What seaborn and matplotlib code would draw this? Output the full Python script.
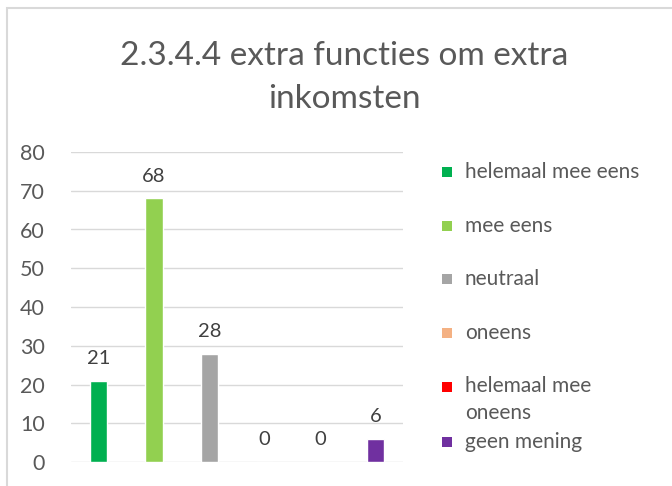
"""Recreate bar chart: 2.3.4.4 extra functies om extra inkomsten."""
import matplotlib
matplotlib.use('Agg')
import matplotlib.pyplot as plt
from matplotlib.patches import Rectangle
import pandas as pd
import seaborn as sns

# data
categories = ['helemaal mee eens', 'mee eens', 'neutraal', 'oneens',
              'helemaal mee oneens', 'geen mening']
legend_labels = ['helemaal mee eens', 'mee eens', 'neutraal', 'oneens',
                 'helemaal mee\noneens', 'geen mening']
counts = [21, 68, 28, 0, 0, 6]
colors = ['#00B050', '#92D050', '#A5A5A5', '#F4B183', '#FF0000', '#7030A0']
yticks = [0, 10, 20, 30, 40, 50, 60, 70, 80]

TEXT = '#595959'
GRID = '#D9D9D9'

sns.set_theme(style='white')
plt.rcParams['font.family'] = ['Lato', 'DejaVu Sans']

df = pd.DataFrame({'cat': categories, 'n': counts})

fig = plt.figure(figsize=(6.72, 4.86), dpi=100)
ax = fig.add_axes([71 / 672, 1 - 462 / 486, 332 / 672, 310 / 486])

sns.barplot(data=df, x='cat', y='n', hue='cat', palette=colors,
            order=categories, hue_order=categories, width=0.31,
            legend=False, ax=ax, saturation=1)

# value labels above each bar
for cont in ax.containers:
    ax.bar_label(cont, padding=10, fontsize=14.5, color='#404040')

ax.set_ylim(0, 80)
ax.set_yticks(yticks)
ax.set_xticks([])
ax.set_xlabel('')
ax.set_ylabel('')
ax.tick_params(axis='y', length=0, pad=19, labelsize=15.5, labelcolor=TEXT)
ax.grid(axis='y', color=GRID, linewidth=1)
ax.set_axisbelow(True)
for s in ax.spines.values():
    s.set_visible(False)

# title, two lines like the original
fig.text(344 / 672, 1 - 65 / 486, '2.3.4.4 extra functies om extra',
         ha='center', va='baseline', fontsize=24, color=TEXT)
fig.text(344 / 672, 1 - 108 / 486, 'inkomsten',
         ha='center', va='baseline', fontsize=24, color=TEXT)

# legend drawn by hand: Excel puts the wrapped entry closer to the next one
legend_y = [172, 226, 279, 333, 387, 442]
for lbl, col, y in zip(legend_labels, colors, legend_y):
    fig.patches.append(Rectangle((442 / 672, 1 - (y + 5) / 486), 10 / 672, 10 / 486,
                                 transform=fig.transFigure, facecolor=col,
                                 edgecolor='none'))
    if '\n' in lbl:
        fig.text(465 / 672, 1 - (y - 11) / 486, lbl, ha='left', va='top',
                 fontsize=15, color=TEXT, linespacing=1.45)
    else:
        fig.text(465 / 672, 1 - y / 486, lbl, ha='left', va='center',
                 fontsize=15, color=TEXT)

# light chart-area border
fig.patches.append(Rectangle((7 / 672, -0.1), 1.1, 1.1 - 8 / 486,
                             transform=fig.transFigure, facecolor='none',
                             edgecolor=GRID, linewidth=1.5))

fig.savefig('out.png', dpi=100)
